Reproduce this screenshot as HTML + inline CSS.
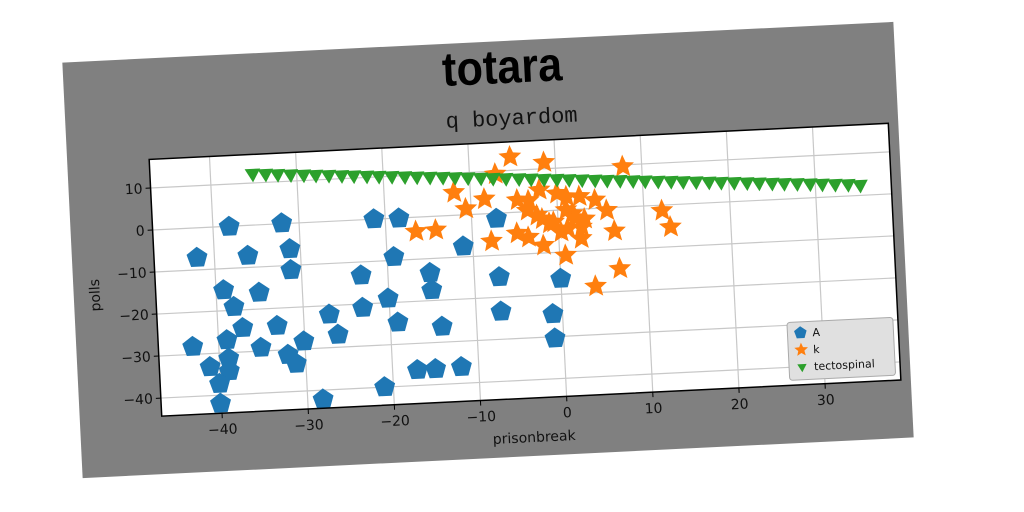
<!DOCTYPE html>
<html><head><meta charset="utf-8"><style>
html,body{margin:0;padding:0;background:#fff;width:1024px;height:512px;overflow:hidden}
#card{position:absolute;left:72px;top:42px;width:832px;height:416px;background:#808080;transform:rotate(-2.8deg);transform-origin:416px 208px}
svg{position:absolute;left:0;top:0}
text{font-family:"DejaVu Sans","Liberation Sans",sans-serif}
</style></head><body>
<div id="card">
<svg id="chart" width="832" height="416">
<text x="439" y="42" text-anchor="middle" font-size="48" font-weight="900" fill="#000" style="font-family:'Liberation Sans',sans-serif" transform="translate(439,0) scale(0.9,1) translate(-439,0)">totara</text>
<text x="446" y="84" text-anchor="middle" font-size="22" style="font-family:'Liberation Mono',monospace" fill="#111">q boyardom</text>
<text x="453" y="402" text-anchor="middle" font-size="14" fill="#111">prisonbreak</text>
<text x="26" y="234" text-anchor="middle" font-size="14" fill="#111" transform="rotate(-90,26,234)">polls</text>
</svg>
</div>
<script>
const xTicks=[-40,-30,-20,-10,0,10,20,30];
const yTicks=[-40,-30,-20,-10,0,10];
const aX=[-38.1,-32.0,-42.0,-36.1,-31.2,-31.2,-39.1,-38.0,-35.0,-23.1,-37.1,-33.1,-43.0,-39.0,-35.1,-30.1,-32.0,-31.1,-41.1,-38.9,-38.9,-40.1,-40.1,-28.2,-27.0,-26.1,-23.1,-20.1,-19.1,-21.0,-21.3,-18.4,-19.2,-7.1,-11.1,-15.1,-15.0,-7.1,0.0,-14.0,-7.1,-1.1,-1.0,-17.1,-15.0,-12.0];
const aY=[-0.1,0.1,-7.1,-7.2,-6.1,-11.1,-15.1,-19.2,-16.1,-13.2,-24.3,-24.2,-28.2,-27.0,-29.2,-28.2,-31.2,-33.4,-33.2,-31.4,-34.4,-37.3,-42.0,-42.2,-22.1,-27.0,-20.9,-19.0,-24.8,-40.0,0.0,-0.1,-9.2,-1.3,-7.5,-13.4,-17.5,-15.2,-16.3,-26.3,-23.4,-24.6,-30.4,-36.3,-36.3,-36.1];
const kX=[-5.2,-1.3,7.8,-7.0,-11.9,-8.4,-10.6,-16.5,-14.2,-7.8,-4.6,-3.3,-3.5,-1.8,-4.8,-3.5,-1.8,0.7,1.1,2.6,4.4,5.7,1.7,3.1,1.1,2.7,0.3,2.6,6.5,6.9,4.0,-0.5,-2.4,12.1,13.0,-2.0,0.0,1.0,-1.0,2.0];
const kY=[13.2,11.5,9.6,9.3,5.4,3.5,1.4,-3.4,-3.3,-6.6,2.9,2.6,0.3,-1.9,-5.0,-6.1,-8.2,-10.8,3.1,3.0,2.0,-0.6,-1.0,-2.4,-4.5,-4.3,-5.2,-7.0,-5.6,-14.6,-18.5,-2.8,-1.0,-1.3,-5.3,5.0,4.0,0.0,-3.0,-2.0];
const tX=[-35.1,-33.6,-32.2,-30.7,-29.2,-27.8,-26.3,-24.8,-23.4,-21.9,-20.5,-19.0,-17.5,-16.1,-14.6,-13.1,-11.7,-10.2,-8.7,-7.3,-5.8,-4.3,-2.9,-1.4,0.1,1.5,3.0,4.5,5.9,7.4,8.9,10.3,11.8,13.3,14.7,16.2,17.7,19.1,20.6,22.1,23.5,25.0,26.4,27.9,29.4,30.8,32.3,33.8,35.2];
const tY=[12.3,12.1,11.9,11.7,11.5,11.3,11.1,10.9,10.7,10.5,10.3,10.1,9.9,9.7,9.5,9.3,9.1,8.9,8.7,8.5,8.3,8.1,7.9,7.7,7.5,7.3,7.1,6.9,6.7,6.5,6.3,6.1,5.9,5.7,5.5,5.3,5.1,4.9,4.7,4.5,4.3,4.1,3.9,3.7,3.5,3.3,3.1,2.9,2.6];
const PL=82,PT=101,PR=822,PB=358,XMIN=-47,XMAX=38.8,YMIN=-44.3,YMAX=16.8;
const sx=v=>PL+(v-XMIN)/(XMAX-XMIN)*(PR-PL);
const sy=v=>PB-(v-YMIN)/(YMAX-YMIN)*(PB-PT);
const svg=document.getElementById('chart');
const NS='http://www.w3.org/2000/svg';
function mk(t,a,p){const e=document.createElementNS(NS,t);for(const k in a)e.setAttribute(k,a[k]);(p||svg).appendChild(e);return e;}
const bg=mk('rect',{x:PL,y:PT,width:PR-PL,height:PB-PT,fill:'#fff'});


xTicks.forEach(v=>{const x=sx(v);
 const g=mk('line',{x1:x,y1:PT,x2:x,y2:PB,stroke:'#c8c8c8','stroke-width':1.2});
 
 
 mk('line',{x1:x,y1:PB,x2:x,y2:PB+5,stroke:'#000'});
 const t=mk('text',{x:x,y:PB+21,'text-anchor':'middle','font-size':14,fill:'#111'});
 t.textContent=(v<0?'\u2212'+(-v):v);
 
 
});
yTicks.forEach(v=>{const y=sy(v);
 const g=mk('line',{x1:PL,y1:y,x2:PR,y2:y,stroke:'#c8c8c8','stroke-width':1.2});
 
 
 mk('line',{x1:PL-5,y1:y,x2:PL,y2:y,stroke:'#000'});
 const t=mk('text',{x:PL-8,y:y+5,'text-anchor':'end','font-size':14,fill:'#111'});
 t.textContent=(v<0?'\u2212'+(-v):v);
 
 
});
function poly(n,r,rot,inner){let pts=[];const m=inner?2*n:n;for(let i=0;i<m;i++){const rr=inner&&i%2?r*inner:r;const a=rot+i*2*Math.PI/m;pts.push((rr*Math.cos(a)).toFixed(2)+','+(rr*Math.sin(a)).toFixed(2));}return pts.join(' ');}
const pent=poly(5,11,-Math.PI/2),star=poly(5,12,-Math.PI/2,0.45),tri=poly(3,9,Math.PI/2);
aX.forEach((v,i)=>{const p=mk('polygon',{points:pent,fill:'#1f77b4',transform:`translate(${sx(v)},${sy(aY[i])})`});
 
 });
kX.forEach((v,i)=>{const p=mk('polygon',{points:star,fill:'#ff7f0e',transform:`translate(${sx(v)},${sy(kY[i])})`});
 
 });
tX.forEach((v,i)=>{const p=mk('polygon',{points:tri,fill:'#2ca02c',transform:`translate(${sx(v)},${sy(tY[i])})`});
 
 });
const fr=mk('rect',{x:PL,y:PT,width:PR-PL,height:PB-PT,fill:'none',stroke:'#000','stroke-width':1.5});


const lg=mk('g',{});


mk('rect',{x:711,y:295,width:106,height:58,rx:3,fill:'#e0e0e0',stroke:'#aaa'},lg);
const labels=['A','k','tectospinal'],shapes=[pent,star,tri],cols=['#1f77b4','#ff7f0e','#2ca02c'];
labels.forEach((l,i)=>{const y=306+i*17;
 const s=mk('polygon',{points:shapes[i],fill:cols[i],transform:`translate(724,${y}) scale(0.6)`},lg);
 
 
 const t=mk('text',{x:736,y:y+4,'font-size':11,fill:'#111'},lg);
 t.textContent=l;
 
 
});
</script>
</body></html>
